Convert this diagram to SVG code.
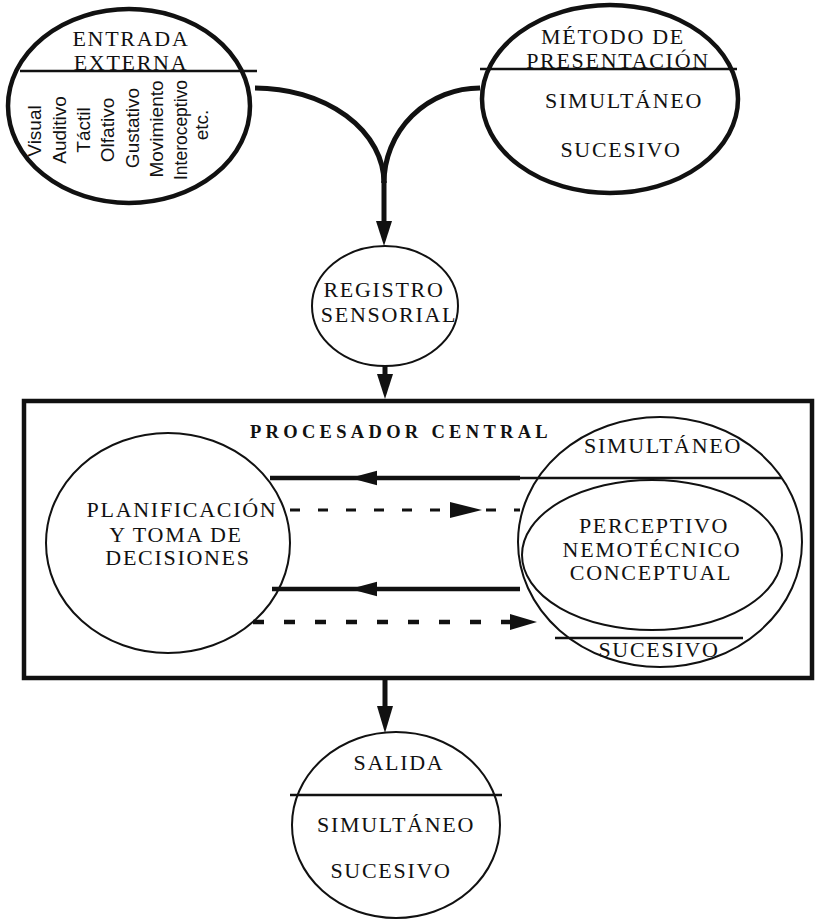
<svg xmlns="http://www.w3.org/2000/svg" xmlns:xlink="http://www.w3.org/1999/xlink" width="819" height="921" viewBox="0 0 819 921">
<style>
  .thick{fill:none;stroke:#111;stroke-width:4.5}
  .thin{fill:none;stroke:#111;stroke-width:2}
  .div{fill:none;stroke:#111;stroke-width:2.5}
  .lbl{font-family:"Liberation Serif","Times New Roman",serif;font-size:22px;letter-spacing:1.7px;fill:#111;text-anchor:middle}
  .title{font-family:"Liberation Serif","Times New Roman",serif;font-size:18.5px;font-weight:bold;letter-spacing:4.3px;fill:#111;text-anchor:middle}
  .rot{font-family:"Liberation Sans",Arial,sans-serif;font-size:19px;fill:#111;text-anchor:middle}
  .conn{fill:none;stroke:#111;stroke-width:5}
  .solid{fill:none;stroke:#111;stroke-width:4.5}
  .dash1{fill:none;stroke:#111;stroke-width:3;stroke-dasharray:10 18}
  .dash2{fill:none;stroke:#111;stroke-width:4.5;stroke-dasharray:11 20}
  .ah{fill:#111}
</style>
<defs>
  <path id="ah" d="M0,0 L-25,-8 L-25,8 Z"/>
</defs>
<rect width="819" height="921" fill="#fff"/>

<g id="entrada">
  <ellipse class="thick" cx="129" cy="106" rx="121" ry="97"/>
  <line class="div" x1="20" y1="71" x2="257" y2="71"/>
  <text class="lbl" x="131" y="46">ENTRADA</text>
  <text class="lbl" x="131" y="70">EXTERNA</text>
  <text class="rot" transform="translate(41,131) rotate(-90)">Visual</text>
  <text class="rot" transform="translate(66,130) rotate(-90)">Auditivo</text>
  <text class="rot" transform="translate(90,130) rotate(-90)">Táctil</text>
  <text class="rot" transform="translate(114,130) rotate(-90)">Olfativo</text>
  <text class="rot" transform="translate(139,128) rotate(-90)">Gustativo</text>
  <text class="rot" transform="translate(163,129) rotate(-90)">Movimiento</text>
  <text class="rot" transform="translate(187,130) rotate(-90)" textLength="100" lengthAdjust="spacingAndGlyphs">Interoceptivo</text>
  <text class="rot" transform="translate(208,125) rotate(-90)">etc.</text>
</g>

<g id="metodo">
  <ellipse class="thick" cx="610" cy="99" rx="128" ry="94"/>
  <line class="div" x1="480" y1="69" x2="737" y2="69"/>
  <text class="lbl" x="613" y="44">MÉTODO DE</text>
  <text class="lbl" x="618" y="68">PRESENTACIÓN</text>
  <text class="lbl" x="624" y="108">SIMULTÁNEO</text>
  <text class="lbl" x="621" y="157">SUCESIVO</text>
</g>

<g id="registro">
  <ellipse class="thin" cx="385" cy="306" rx="73" ry="60"/>
  <text class="lbl" x="384" y="297">REGISTRO</text>
  <text class="lbl" x="389" y="322">SENSORIAL</text>
</g>

<g id="procesador">
  <rect class="thick" x="24" y="401" width="788" height="277"/>
  <text class="title" x="401" y="438">PROCESADOR CENTRAL</text>
</g>

<g id="planificacion">
  <ellipse class="thin" cx="168" cy="543" rx="122" ry="110"/>
  <text class="lbl" x="182" y="517">PLANIFICACIÓN</text>
  <text class="lbl" x="176" y="542">Y TOMA DE</text>
  <text class="lbl" x="178" y="565">DECISIONES</text>
</g>

<g id="modos">
  <ellipse class="thin" cx="660" cy="542" rx="142" ry="125"/>
  <ellipse class="thin" cx="652" cy="555" rx="130" ry="75"/>
  <line class="div" x1="520" y1="478" x2="782" y2="478"/>
  <line class="div" x1="555" y1="638" x2="743" y2="638"/>
  <text class="lbl" x="663" y="453">SIMULTÁNEO</text>
  <text class="lbl" x="654" y="533">PERCEPTIVO</text>
  <text class="lbl" x="652" y="557">NEMOTÉCNICO</text>
  <text class="lbl" x="651" y="580">CONCEPTUAL</text>
  <text class="lbl" x="659" y="657">SUCESIVO</text>
</g>

<g id="salida">
  <ellipse class="thin" cx="396" cy="825" rx="104" ry="93"/>
  <line class="div" x1="290" y1="795" x2="502" y2="795"/>
  <text class="lbl" x="399" y="770">SALIDA</text>
  <text class="lbl" x="396" y="832">SIMULTÁNEO</text>
  <text class="lbl" x="391" y="878">SUCESIVO</text>
</g>

<g id="connectors">
  <path class="conn" d="M255,88 A129,95 0 0 1 384,183"/>
  <path class="conn" d="M480,88 A96,95 0 0 0 384,183"/>
  <line class="conn" x1="384" y1="181" x2="384" y2="225"/>
  <use href="#ah" class="ah" transform="translate(384,246) rotate(90)"/>
  <line class="conn" x1="385" y1="366" x2="385" y2="378"/>
  <use href="#ah" class="ah" transform="translate(385,399) rotate(90)"/>
  <line class="conn" x1="385" y1="678" x2="385" y2="708"/>
  <use href="#ah" class="ah" transform="translate(385,733) rotate(90) scale(1.08,1)"/>
  <line class="solid" x1="270" y1="478" x2="520" y2="478"/>
  <use href="#ah" class="ah" transform="translate(350,478) rotate(180) scale(1.08,0.9)"/>
  <line class="dash1" x1="290" y1="510" x2="520" y2="510"/>
  <use href="#ah" class="ah" transform="translate(482,510) scale(1.28,1)"/>
  <line class="solid" x1="272" y1="589" x2="520" y2="589"/>
  <use href="#ah" class="ah" transform="translate(350,589) rotate(180) scale(1.08,0.9)"/>
  <line class="dash2" x1="253" y1="622" x2="515" y2="622"/>
  <use href="#ah" class="ah" transform="translate(537,622) scale(1.08,1)"/>
</g>
</svg>
